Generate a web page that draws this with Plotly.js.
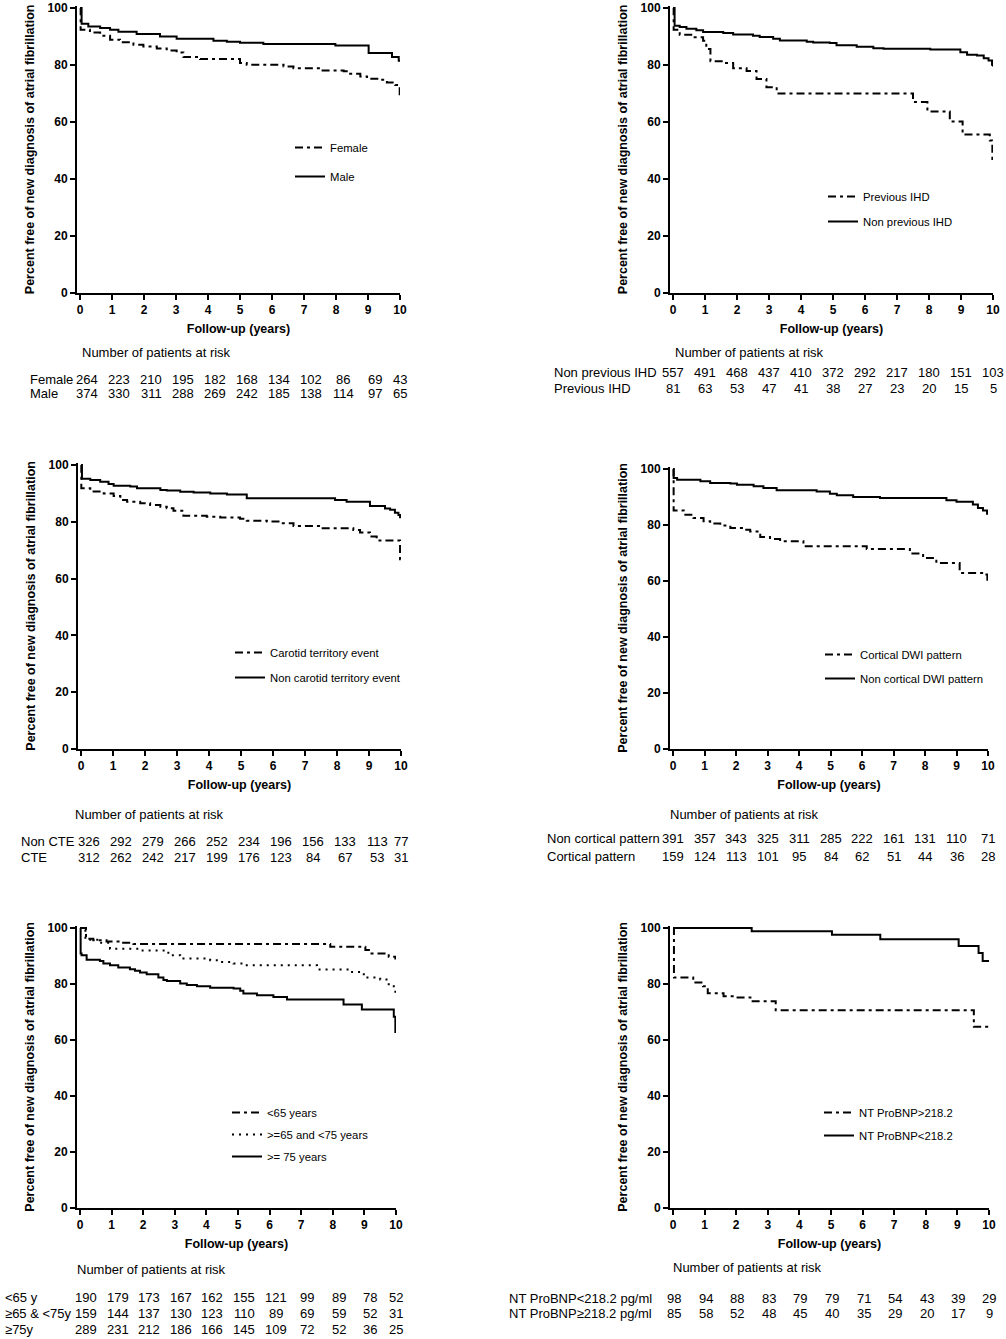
<!DOCTYPE html>
<html><head><meta charset="utf-8">
<script src="https://cdn.plot.ly/plotly-3.0.1.min.js"></script>
<style>html,body{margin:0;padding:0;background:#fff}#chart{width:1006px;height:1339px}</style>
</head><body><div id="chart"></div>
<script>
// ---------- DATA ----------
const years = [0,1,2,3,4,5,6,7,8,9,10];
const yTicks = [0,20,40,60,80,100];

// Panel 1: sex
const femaleT = [0,0.02,0.31,0.63,0.94,1.25,1.67,1.98,2.4,2.71,3.02,3.23,3.75,5.0,5.21,6.36,6.67,7.5,8.24,8.39,8.76,8.97,9.38,9.59,9.85,9.96,9.99,10];
const femaleS = [100,92.4,91.4,90.3,88.9,88.0,87.1,86.5,85.8,85.1,84.4,82.8,82.1,80.7,80.1,79.5,78.9,78.1,77.8,76.9,76.0,75.2,74.8,73.9,73.0,72.2,69.0,69.0];
const maleT = [0,0.05,0.26,0.63,0.94,1.2,1.77,2.5,3.02,4.17,4.59,5.0,5.73,7.98,9.02,9.75,9.96,10];
const maleS = [100,94.5,93.5,93.0,92.4,91.7,90.9,90.0,89.2,88.5,88.2,87.8,87.4,86.8,84.2,82.8,81.5,81.5];
const femaleRisk = [264,223,210,195,182,168,134,102,86,69,43];
const maleRisk = [374,330,311,288,269,242,185,138,114,97,65];

// Panel 2: previous IHD
const ihdT = [0,0.02,0.21,0.63,0.94,1.04,1.17,1.57,1.88,2.3,2.61,2.92,3.24,7.5,7.95,8.65,9.05,9.9,9.98,10];
const ihdS = [100,92.4,90.6,89.7,88.5,85.6,81.3,80.7,78.9,77.9,75.1,72.2,70.0,67.0,63.7,60.2,55.6,53.5,47.0,47.0];
const nonIhdT = [0,0.05,0.21,0.42,0.73,0.94,1.57,1.88,2.5,2.71,3.13,3.34,4.18,4.38,4.9,5.11,5.74,6.26,6.58,8.04,8.98,9.19,9.5,9.71,9.86,9.97,10];
const nonIhdS = [100,93.8,93.3,92.7,92.2,91.6,91.2,90.7,90.3,89.8,89.2,88.6,88.2,87.9,87.7,86.9,86.4,85.9,85.7,85.4,84.5,83.6,83.3,82.4,81.6,80.1,79.5];
const nonIhdRisk = [557,491,468,437,410,372,292,217,180,151,103];
const ihdRisk = [81,63,53,47,41,38,27,23,20,15,5];

// Panel 3: carotid territory event
const cteT = [0,0.01,0.29,0.71,1.02,1.23,1.44,1.85,2.16,2.48,2.68,2.89,3.2,3.93,4.35,4.97,5.18,5.81,6.22,6.64,7.47,8.51,8.72,9.03,9.24,9.97,10];
const cteS = [100,91.8,90.7,90.0,89.1,87.7,87.1,86.5,85.9,85.3,84.8,83.9,82.1,81.8,81.5,81.1,80.4,80.1,79.5,78.5,77.7,77.1,76.2,74.8,73.4,66.8,66.8];
const nonCteT = [0,0.03,0.29,0.6,0.86,1.02,1.54,1.75,2.48,2.68,3.1,3.52,4.04,4.56,5.18,7.94,8.3,9.03,9.5,9.66,9.81,9.92,9.97,10];
const nonCteS = [100,95.2,94.7,94.1,93.3,92.7,92.4,91.8,91.2,91.0,90.6,90.3,90.0,89.6,88.3,87.7,87.1,85.6,84.7,84.2,83.2,82.4,81.6,81.6];
const nonCteRisk = [326,292,279,266,252,234,196,156,133,113,77];
const cteRisk = [312,262,242,217,199,176,123,84,67,53,31];

// Panel 4: cortical DWI pattern
const cortT = [0,0.02,0.34,0.65,0.97,1.18,1.5,1.82,2.24,2.45,2.77,3.08,3.4,4.14,6.15,7.52,7.94,8.36,9.1,9.95,9.98,10];
const cortS = [100,85.2,83.7,82.5,81.3,80.5,79.8,78.9,78.3,77.7,75.7,75.0,74.2,72.4,71.4,69.8,68.2,66.4,62.9,62.3,59.3,59.3];
const nonCortT = [0,0.02,0.13,0.87,1.18,1.82,2.03,2.56,2.87,3.29,4.56,4.98,5.2,5.72,6.57,8.68,9.0,9.52,9.68,9.84,9.97,10];
const nonCortS = [100,96.8,96.2,95.6,95.0,94.8,94.4,93.8,93.2,92.4,92.0,91.2,90.6,90.0,89.6,88.8,88.3,87.3,86.1,85.2,84.0,84.0];
const nonCortRisk = [391,357,343,325,311,285,222,161,131,110,71];
const cortRisk = [159,124,113,101,95,84,62,51,44,36,28];

// Panel 5: age groups
const under65T = [0,0.19,0.42,0.84,1.27,1.69,7.92,9.03,9.19,9.77,9.98,10];
const under65S = [100,96.2,95.6,95.2,94.7,94.3,93.3,92.1,90.9,89.7,89.1,89.1];
const mid65T = [0,0.17,0.63,0.95,1.9,2.75,2.85,3.17,4.12,4.43,4.86,5.17,7.5,8.61,8.87,9.03,9.5,9.77,9.93,9.98,10];
const mid65S = [100,95.8,94.7,92.6,92.0,91.2,90.3,89.1,88.5,87.9,87.3,86.7,85.2,84.3,83.5,82.3,81.6,79.9,78.4,75.4,75.4];
const over75T = [0,0.02,0.05,0.21,0.63,0.74,0.95,1.21,1.58,1.74,1.9,2.11,2.48,2.64,2.75,3.17,3.38,3.7,4.12,4.86,5.07,5.17,5.6,6.12,6.55,8.34,8.92,9.93,9.98,10];
const over75S = [100,90.9,90.3,88.7,88.2,87.3,86.7,85.9,85.3,84.7,84.1,83.5,82.3,81.4,81.1,80.2,79.6,79.2,78.7,78.4,77.6,76.6,76.0,75.4,74.5,72.7,70.9,68.3,62.9,62.9];
const under65Risk = [190,179,173,167,162,155,121,99,89,78,52];
const mid65Risk = [159,144,137,130,123,110,89,69,59,52,31];
const over75Risk = [289,231,212,186,166,145,109,72,52,36,25];

// Panel 6: NT-proBNP
const bnpHighT = [0,0.03,0.64,0.95,1.1,1.6,2.0,2.45,3.25,9.52,10];
const bnpHighS = [100,82.3,80.5,79.2,76.7,75.6,75.2,73.8,70.6,64.7,64.7];
const bnpLowT = [0,2.49,5.03,6.56,9.04,9.67,9.8,10];
const bnpLowS = [100,98.8,97.6,96.0,93.6,91.1,88.2,88.2];
const bnpLowRisk = [98,94,88,83,79,79,71,54,43,39,29];
const bnpHighRisk = [85,58,52,48,45,40,35,29,20,17,9];

// ---------- STYLE / LAYOUT ----------
const W = 1006, H = 1339;
const FONT = 'Liberation Sans, Arial, Helvetica, sans-serif';
const DASHDOT = '8px,4px,3px,4px';
const DOT = '2px,5px';

const panels = [
  {ax:77, x0:80, x10:400, y100:8, y0:293,
   curves:[{n:'Female',t:femaleT,s:femaleS,d:DASHDOT},{n:'Male',t:maleT,s:maleS,d:'solid'}],
   legend:{x:290, y:133, gap:10},
   riskTitle:{x:80,y:352}, labelX:28, shift:7,
   rows:[{l:'Female',v:femaleRisk,y:379},{l:'Male',v:maleRisk,y:394}]},
  {ax:670, x0:673, x10:993, y100:8, y0:293,
   curves:[{n:'Previous IHD',t:ihdT,s:ihdS,d:DASHDOT},{n:'Non previous IHD',t:nonIhdT,s:nonIhdS,d:'solid'}],
   legend:{x:823, y:182, gap:6},
   riskTitle:{x:673,y:352}, labelX:552, shift:0,
   rows:[{l:'Non previous IHD',v:nonIhdRisk,y:372},{l:'Previous IHD',v:ihdRisk,y:388}]},
  {ax:78, x0:81, x10:401, y100:465, y0:749,
   curves:[{n:'Carotid territory event',t:cteT,s:cteS,d:DASHDOT},{n:'Non carotid territory event',t:nonCteT,s:nonCteS,d:'solid'}],
   legend:{x:230, y:638, gap:6},
   riskTitle:{x:73,y:814}, labelX:19, shift:8,
   rows:[{l:'Non CTE',v:nonCteRisk,y:841},{l:'CTE',v:cteRisk,y:857}]},
  {ax:670, x0:673, x10:988, y100:469, y0:749,
   curves:[{n:'Cortical DWI pattern',t:cortT,s:cortS,d:DASHDOT},{n:'Non cortical DWI pattern',t:nonCortT,s:nonCortS,d:'solid'}],
   legend:{x:820, y:640, gap:5},
   riskTitle:{x:668,y:814}, labelX:545, shift:0,
   rows:[{l:'Non cortical pattern',v:nonCortRisk,y:839},{l:'Cortical pattern',v:cortRisk,y:856}]},
  {ax:77, x0:80, x10:396, y100:928, y0:1208,
   curves:[{n:'<65 years',t:under65T,s:under65S,d:DASHDOT},{n:'>=65 and <75 years',t:mid65T,s:mid65S,d:DOT},{n:'>= 75 years',t:over75T,s:over75S,d:'solid'}],
   legend:{x:227, y:1098, gap:3},
   riskTitle:{x:75,y:1269}, labelX:3, shift:6,
   rows:[{l:'<65 y',v:under65Risk,y:1297},{l:'≥65 & <75y',v:mid65Risk,y:1313},{l:'≥75y',v:over75Risk,y:1329}]},
  {ax:670, x0:673, x10:989, y100:928, y0:1208,
   curves:[{n:'NT ProBNP>218.2',t:bnpHighT,s:bnpHighS,d:DASHDOT},{n:'NT ProBNP<218.2',t:bnpLowT,s:bnpLowS,d:'solid'}],
   legend:{x:819, y:1098, gap:4},
   riskTitle:{x:671,y:1267}, labelX:507, shift:1,
   rows:[{l:'NT ProBNP<218.2 pg/ml',v:bnpLowRisk,y:1298},{l:'NT ProBNP≥218.2 pg/ml',v:bnpHighRisk,y:1313}]}
];

const traces = [];
const layout = {
  width: W, height: H,
  margin: {l:0, r:0, t:0, b:0},
  paper_bgcolor: '#fff', plot_bgcolor: 'rgba(0,0,0,0)',
  font: {family: FONT, color: '#000'},
  showlegend: true,
  annotations: []
};
const txt = (s) => s.replace(/&/g,'&amp;').replace(/</g,'&lt;').replace(/>/g,'&gt;');

panels.forEach((p, i) => {
  const k = i + 1;
  const xn = 'xaxis' + (k === 1 ? '' : k), yn = 'yaxis' + (k === 1 ? '' : k);
  const xr = 'x' + (k === 1 ? '' : k), yr = 'y' + (k === 1 ? '' : k);
  const lg = 'legend' + (k === 1 ? '' : k);
  const pxPerX = (p.x10 - p.x0) / 10;
  const pxPerY = (p.y0 - p.y100) / 100;
  const yTopVal = 100.8;
  const yTopPx = p.y0 - yTopVal * pxPerY;

  layout[xn] = {
    domain: [p.ax / W, p.x10 / W],
    range: [-(p.x0 - p.ax) / pxPerX, 10],
    anchor: yr, showgrid: false, zeroline: false,
    showline: true, linewidth: 2, linecolor: '#000',
    ticks: 'outside', ticklen: 5, tickwidth: 2, tickcolor: '#000',
    tickvals: years, ticktext: years.map(String),
    tickfont: {family: FONT, size: 12, weight: 'bold', color: '#000'},
    title: {text: 'Follow-up (years)', font: {family: FONT, size: 12.5, weight: 'bold', color: '#000'}, standoff: 8},
    fixedrange: true
  };
  layout[yn] = {
    domain: [1 - p.y0 / H, 1 - yTopPx / H],
    range: [0, yTopVal],
    anchor: xr, showgrid: false, zeroline: false,
    showline: true, linewidth: 2, linecolor: '#000',
    ticks: 'outside', ticklen: 5, tickwidth: 2, tickcolor: '#000',
    tickvals: yTicks, ticktext: yTicks.map(String),
    tickfont: {family: FONT, size: 12, weight: 'bold', color: '#000'},
    title: {text: 'Percent free of new diagnosis of atrial fibrillation', font: {family: FONT, size: 12.5, weight: 'bold', color: '#000'}, standoff: 10},
    fixedrange: true
  };
  layout[lg] = {
    x: p.legend.x / W, y: 1 - p.legend.y / H, xanchor: 'left', yanchor: 'top',
    bgcolor: 'rgba(0,0,0,0)', borderwidth: 0,
    font: {family: FONT, size: 11.3, color: '#000'},
    traceorder: 'grouped', tracegroupgap: p.legend.gap, itemwidth: 30
  };

  p.curves.forEach((c, j) => {
    traces.push({
      type: 'scatter', mode: 'lines', x: c.t, y: c.s, name: txt(c.n),
      xaxis: xr, yaxis: yr, legend: lg, legendgroup: 'p' + k + 'c' + j,
      line: {shape: 'hv', color: '#000', width: 2, dash: c.d},
      hoverinfo: 'skip'
    });
  });

  layout.annotations.push({
    xref: 'paper', yref: 'paper', x: p.riskTitle.x / W, y: 1 - p.riskTitle.y / H,
    xanchor: 'left', yanchor: 'middle', showarrow: false,
    text: 'Number of patients at risk', font: {family: FONT, size: 13, color: '#000'}
  });
  p.rows.forEach(r => {
    layout.annotations.push({
      xref: 'paper', yref: 'paper', x: p.labelX / W, y: 1 - r.y / H,
      xanchor: 'left', yanchor: 'middle', showarrow: false,
      text: txt(r.l), font: {family: FONT, size: 13, color: '#000'}
    });
    r.v.forEach((v, m) => {
      layout.annotations.push({
        xref: xr, yref: 'paper', x: years[m], y: 1 - r.y / H,
        xanchor: 'center', yanchor: 'middle', showarrow: false,
        xshift: m === 10 ? 0 : p.shift,
        text: String(v), font: {family: FONT, size: 13, color: '#000'}
      });
    });
  });
});

Plotly.newPlot('chart', traces, layout, {staticPlot: true, displayModeBar: false});
</script></body></html>
